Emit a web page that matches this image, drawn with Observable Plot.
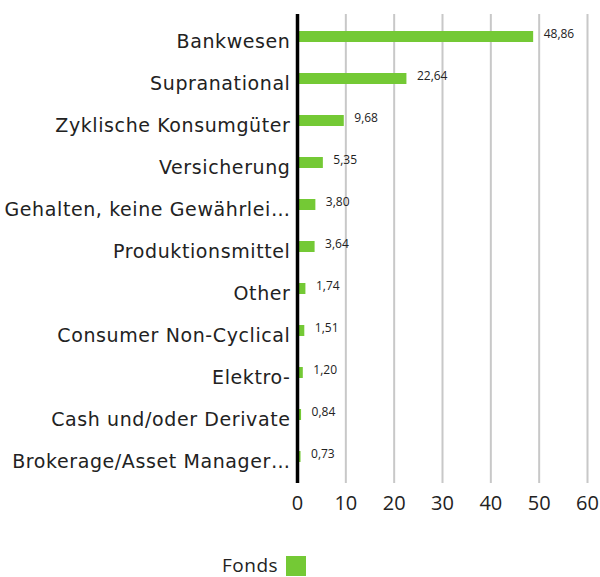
<!DOCTYPE html>
<html>
<head>
<meta charset="utf-8">
<script src="https://cdn.jsdelivr.net/npm/d3@7"></script>
<script src="https://cdn.jsdelivr.net/npm/@observablehq/plot@0.6"></script>
<style>
  html, body { margin: 0; padding: 0; background: #fff; }
  body { width: 600px; height: 577px; overflow: hidden; font-family: "Open Sans", sans-serif; color: #222; position: relative; }
  #legend { position: absolute; left: 222px; top: 555px; display: flex; align-items: center; font-size: 19px; line-height: 21px; letter-spacing: 0.5px; }
  #legend .sw { width: 20px; height: 20px; background: #74c935; margin-left: 8px; }
</style>
</head>
<body>
<div id="chart"></div>
<div id="legend"><span>Fonds</span><span class="sw"></span></div>
<script>
const categories = [
  "Bankwesen",
  "Supranational",
  "Zyklische Konsumgüter",
  "Versicherung",
  "Gehalten, keine Gewährlei…",
  "Produktionsmittel",
  "Other",
  "Consumer Non-Cyclical",
  "Elektro-",
  "Cash und/oder Derivate",
  "Brokerage/Asset Manager…"
];
const values = [48.86, 22.64, 9.68, 5.35, 3.80, 3.64, 1.74, 1.51, 1.20, 0.84, 0.73];
const xTicks = [0, 10, 20, 30, 40, 50, 60];
const gridTicks = [10, 20, 30, 40, 50, 60];

const data = categories.map((c, i) => ({category: c, value: values[i]}));
const fmt = v => v.toFixed(2).replace(".", ",");

const chart = Plot.plot({
  width: 600,
  height: 530,
  marginLeft: 297,
  marginRight: 13,
  marginTop: 14,
  marginBottom: 47,
  style: {fontFamily: "Open Sans, sans-serif", color: "#222", background: "#fff"},
  x: {domain: [0, 60], label: null},
  y: {domain: categories, padding: 0, label: null},
  marks: [
    Plot.ruleX(gridTicks, {stroke: "#c8c8c8", strokeWidth: 2}),
    Plot.barX(data, {x: "value", y: "category", fill: "#74c935", insetTop: 16, insetBottom: 15, dy: -3}),
    Plot.ruleX([0], {stroke: "#000", strokeWidth: 3.5}),
    Plot.text(data, {x: "value", y: "category", text: d => fmt(d.value), dx: 10, dy: -5, textAnchor: "start", fontSize: 12, fill: "#222"}),
    Plot.axisX({ticks: xTicks, tickSize: 0, tickPadding: 12, fontSize: 20, label: null, tickFormat: d => String(d)}),
    Plot.axisY({tickSize: 0, tickPadding: 7, fontSize: 19, dy: 2, label: null, fontFamily: "DejaVu Sans"})
  ]
});
chart.querySelectorAll("g[aria-label='y-axis tick label'] text").forEach(t => t.style.letterSpacing = "0.6px");
document.getElementById("chart").appendChild(chart);
</script>
</body>
</html>
